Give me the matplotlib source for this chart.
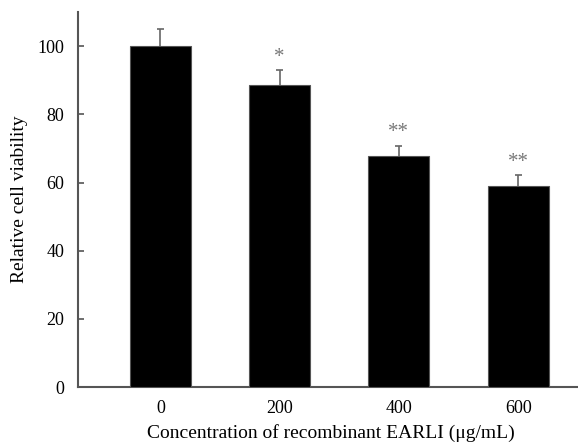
import matplotlib
matplotlib.use("Agg")
import matplotlib.pyplot as plt

concentrations = ["0", "200", "400", "600"]
viability = [100, 88.5, 67.8, 59.0]
errors = [5.0, 4.5, 3.0, 3.2]
marks = ["", "*", "**", "**"]

plt.rcParams['font.family'] = ['Liberation Serif', 'DejaVu Serif']

fig = plt.figure(figsize=(5.78, 4.46), dpi=100)
ax = fig.add_axes([0.135, 0.132, 0.875, 0.841])

x = list(range(len(concentrations)))
ax.bar(x, viability, width=0.51, color='black', edgecolor='#555555', linewidth=0.8, zorder=3)

# upper error bars only
tops = [v + e for v, e in zip(viability, errors)]
ax.vlines(x, viability, tops, color='#666666', linewidth=1.2, zorder=2)
ax.hlines(tops, [i - 0.03 for i in x], [i + 0.03 for i in x], color='#666666', linewidth=1.2, zorder=2)

for i, (t, m) in enumerate(zip(tops, marks)):
    if m:
        ax.text(i, t + 1.0, m, ha='center', va='bottom', fontsize=15, color='#777777')

ax.set_xlim(-0.69, 3.55)
ax.set_ylim(0, 110)
ax.set_yticks([0, 20, 40, 60, 80, 100])
ax.set_xticks(x)
ax.set_xticklabels(concentrations)
ax.tick_params(axis='y', direction='in', length=4, width=1.2, color='#555555', pad=10, labelsize=13)
ax.tick_params(axis='x', length=0, pad=9, labelsize=13)

for s in ['top', 'right']:
    ax.spines[s].set_visible(False)
for s in ['left', 'bottom']:
    ax.spines[s].set_color('#555555')
    ax.spines[s].set_linewidth(1.5)

ax.set_ylabel("Relative cell viability", fontsize=14, labelpad=7)
ax.set_xlabel("Concentration of recombinant EARLI (\u03bcg/mL)", fontsize=14, labelpad=5)

fig.savefig("out.png", dpi=100)
